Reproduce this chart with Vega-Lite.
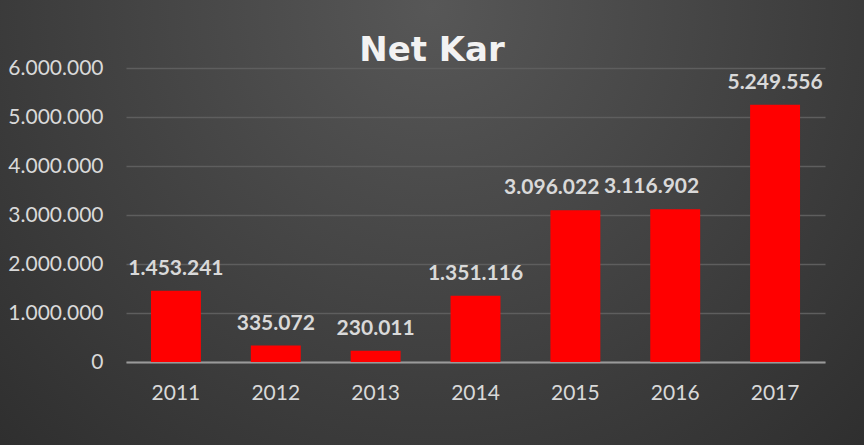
{
  "$schema": "https://vega.github.io/schema/vega-lite/v6.json",
  "autosize": "none",
  "width": 864,
  "height": 445,
  "padding": 0,
  "background": "#2b2b2b",
  "title": {
    "text": "Net Kar",
    "anchor": "middle",
    "offset": -68,
    "font": "DejaVu Sans",
    "fontSize": 34,
    "fontWeight": "bold",
    "color": "#f2f2f2"
  },
  "data": {
    "values": [
      {"year": "2011", "value": 1453241},
      {"year": "2012", "value": 335072},
      {"year": "2013", "value": 230011},
      {"year": "2014", "value": 1351116},
      {"year": "2015", "value": 3096022},
      {"year": "2016", "value": 3116902},
      {"year": "2017", "value": 5249556}
    ]
  },
  "encoding": {
    "x": {
      "field": "year", "type": "nominal",
      "scale": {"range": [126, 825], "paddingInner": 0.5, "paddingOuter": 0.25},
      "axis": {"title": null, "offset": -83, "labelAngle": 0, "ticks": false, "domain": true, "domainColor": "#9a9a9a", "domainWidth": 2, "grid": false, "labelPadding": 20, "labelFontSize": 21, "labelColor": "#d9d9d9", "labelFont": "Lato"}
    },
    "y": {
      "field": "value", "type": "quantitative",
      "scale": {"domain": [0, 6000000], "range": [362, 68]},
      "axis": {"title": null, "offset": -103, "values": [0, 1000000, 2000000, 3000000, 4000000, 5000000, 6000000], "format": ",d", "ticks": false, "domain": false, "labelPadding": 0, "labelFontSize": 21, "labelColor": "#d9d9d9", "labelFont": "Lato", "gridColor": "#5e5e5e", "gridWidth": 1.5}
    }
  },
  "layer": [
    {"mark": {"type": "bar", "color": "#ff0000"}},
    {
      "transform": [{"filter": "datum.year != '2015' && datum.year != '2016'"}],
      "mark": {"type": "text", "dy": -16, "baseline": "alphabetic", "font": "Lato", "fontSize": 21, "fontWeight": "bold", "color": "#d9d9d9"},
      "encoding": {"text": {"field": "value", "type": "quantitative", "format": ",d"}}
    },
    {
      "transform": [{"filter": "datum.year == '2015' || datum.year == '2016'"}],
      "mark": {"type": "text", "dy": -16, "dx": 24, "align": "right", "baseline": "alphabetic", "font": "Lato", "fontSize": 21, "fontWeight": "bold", "color": "#d9d9d9"},
      "encoding": {"text": {"field": "value", "type": "quantitative", "format": ",d"}}
    }
  ],
  "config": {
    "locale": {"number": {"decimal": ",", "thousands": ".", "grouping": [3], "currency": ["", ""]}},
    "view": {
      "stroke": null,
      "fill": {"gradient": "radial", "x1": 0.5, "y1": 0.25, "r1": 0, "x2": 0.5, "y2": 0.25, "r2": 0.85, "stops": [{"offset": 0, "color": "#575757"}, {"offset": 1, "color": "#272727"}]}
    }
  }
}
